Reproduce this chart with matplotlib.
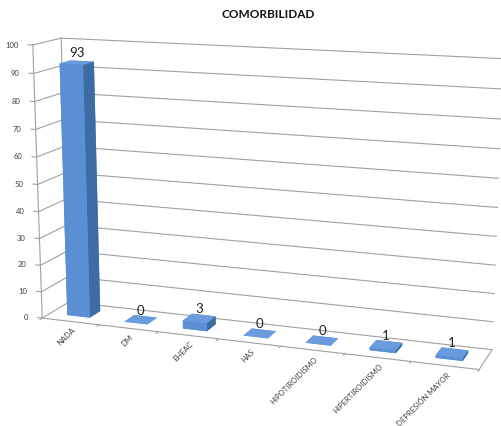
import matplotlib
matplotlib.use("Agg")
import matplotlib.pyplot as plt
import numpy as np
from mpl_toolkits.mplot3d import proj3d

categories = ["NADA", "DM", "EHEAC", "HAS", "HIPOTIROIDISMO", "HIPERTIROIDISMO", "DEPRESIÓN MAYOR"]
values = [93, 0, 3, 0, 0, 1, 1]
yticks = list(range(0, 101, 10))
title = "COMORBILIDAD"

plt.rcParams['font.family'] = ['Lato', 'DejaVu Sans']

n = len(categories)
fig = plt.figure(figsize=(5.01, 4.27), dpi=100)
ax = fig.add_axes([-0.0309, -0.1050, 1.0699, 1.2553], projection='3d')
ax.set_proj_type('persp', focal_length=0.511)
ax.view_init(elev=13.0, azim=-69.94)
ax.set_box_aspect((n, 0.925, 4.338), zoom=1.0)
ax.set_xlim(0, n)
ax.set_ylim(0, 1)
ax.set_zlim(0, 100)
ax.set_axis_off()

gc = '#a0a0a0'
lw = 0.8
for z in yticks:
    ax.plot([0, n], [1, 1], [z, z], color=gc, lw=lw)
    ax.plot([0, 0], [0, 1], [z, z], color=gc, lw=lw)
    ax.plot([0, -0.08], [0, 0], [z, z], color=gc, lw=lw)
ax.plot([0, 0], [1, 1], [0, 100], color=gc, lw=lw)
ax.plot([0, 0], [0, 0], [0, 100], color=gc, lw=lw)
ax.plot([0, n], [0, 0], [0, 0], color=gc, lw=lw)
ax.plot([n, n], [0, 1], [0, 0], color=gc, lw=lw)
for i in range(n + 1):
    ax.plot([i, i], [0, -0.08], [0, 0], color=gc, lw=lw)

w = 0.4
xs = np.arange(n) + 0.5 - w / 2
ys = np.full(n, 0.5 - w / 2)
# face order: bottom, top, front, back, left, right
face_cols = ['#6a9cdd', '#6a9cdd', '#5a8fd3', '#5a8fd3', '#5a8fd3', '#3d6ba4']
ax.bar3d(xs, ys, np.zeros(n), w, w, values, color=face_cols * n, shade=False, edgecolor='none')

fig.canvas.draw()
M = ax.get_proj()
inv = fig.transFigure.inverted()

def fpos(x, y, z):
    px, py, _ = proj3d.proj_transform(np.array([x]), np.array([y]), np.array([z]), M)
    d = ax.transData.transform((px[0], py[0]))
    return inv.transform(d)

for z in yticks:
    fx, fy = fpos(-0.25, 0, z)
    fig.text(fx, fy, str(z), ha='right', va='center', fontsize=5.5, color='#404040')

for i, v in enumerate(values):
    fx, fy = fpos(i + 0.5, 0.5, v + 1.5)
    fig.text(fx, fy, str(v), ha='center', va='bottom', fontsize=9.5, color='#222222')
    fx, fy = fpos(i + 0.52, 0, -1.5)
    fig.text(fx, fy, categories[i], ha='right', va='top', rotation=45,
             rotation_mode='anchor', fontsize=5.5, color='#404040')

fig.text(0.535, 0.965, title, ha='center', va='center', fontsize=8.5, fontweight='bold', color='#111111')

fig.savefig('out.png', dpi=100)
